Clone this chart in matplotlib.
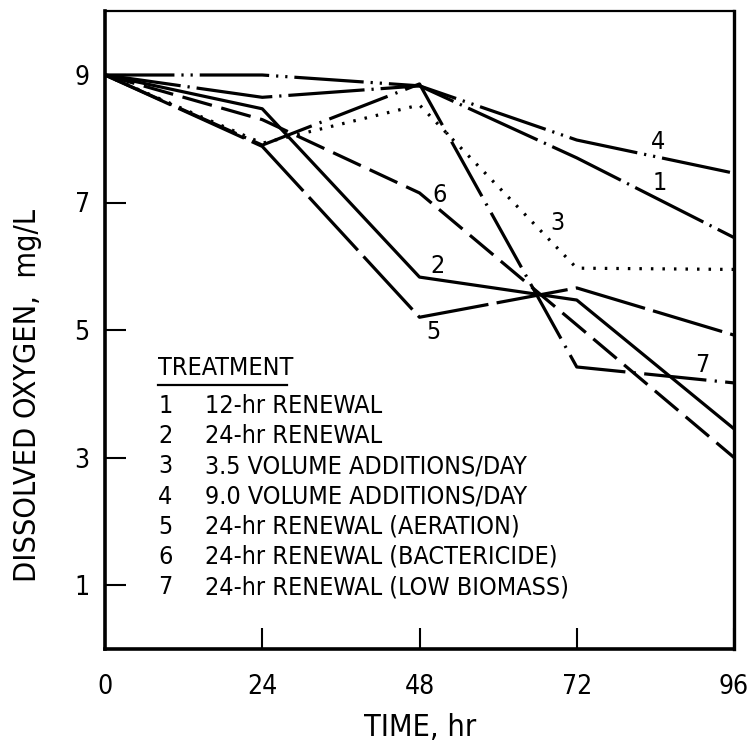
import matplotlib
matplotlib.use("Agg")
import matplotlib.pyplot as plt
from matplotlib.lines import Line2D

plt.rcParams['font.family'] = ['DejaVu Sans']
plt.rcParams['font.stretch'] = 'condensed'
plt.rcParams['lines.scale_dashes'] = False

# Sampling times (hr)
time_hr = [0, 24, 48, 72, 96]

# Dissolved oxygen (mg/L) per treatment
do_12hr_renewal = [9.0, 8.65, 8.83, 7.70, 6.45]
do_24hr_renewal = [9.0, 8.47, 5.83, 5.47, 3.45]
do_35_vol_add = [9.0, 7.93, 8.53, 5.97, 5.95]
do_90_vol_add = [9.0, 9.00, 8.83, 7.98, 7.46]
do_24hr_aeration = [9.0, 7.88, 5.20, 5.66, 4.92]
do_24hr_bactericide = [9.0, 8.30, 7.15, 5.08, 3.00]
do_24hr_low_biomass = [9.0, 7.90, 8.86, 4.42, 4.17]

treatment_ids = ["1", "2", "3", "4", "5", "6", "7"]
treatment_names = [
    "12-hr RENEWAL",
    "24-hr RENEWAL",
    "3.5 VOLUME ADDITIONS/DAY",
    "9.0 VOLUME ADDITIONS/DAY",
    "24-hr RENEWAL (AERATION)",
    "24-hr RENEWAL (BACTERICIDE)",
    "24-hr RENEWAL (LOW BIOMASS)",
]

x_ticks = [0, 24, 48, 72, 96]
y_ticks = [1, 3, 5, 7, 9]

series = [do_12hr_renewal, do_24hr_renewal, do_35_vol_add, do_90_vol_add,
          do_24hr_aeration, do_24hr_bactericide, do_24hr_low_biomass]

# Dash patterns (points)
styles = [
    (0, (55, 5, 1.6, 5)),              # 1 dash-dot
    (0, ()),                           # 2 solid
    (0, (1.8, 6.5)),                   # 3 dotted
    (0, (50, 5, 1.6, 5, 1.6, 5)),      # 4 dash-dot-dot
    (0, (52, 6)),                      # 5 long dash
    (0, (22, 7)),                      # 6 dash
    (0, (45, 6, 1.6, 6)),              # 7 dash-dot
]

# Curve label positions (hr, mg/L)
label_pos = [(84.7, 7.31), (50.7, 6.0), (69.1, 6.68), (84.4, 7.95),
             (50.1, 4.97), (51.1, 7.12), (91.1, 4.45)]

W, H = 751, 744
fig = plt.figure(figsize=(W / 100, H / 100), dpi=100)
ax = fig.add_axes([105 / W, 1 - 648.75 / H, 629 / W, 637.5 / H])

for vals, ls in zip(series, styles):
    ax.plot(time_hr, vals, color='black', lw=2.3, linestyle=ls,
            dash_capstyle='butt', solid_joinstyle='miter')

fs = 18
for tid, (lx, ly) in zip(treatment_ids, label_pos):
    ax.text(lx, ly, tid, fontsize=fs, ha='center', va='center')

# Treatment key
ax.text(8.1, 4.40, "TREATMENT", fontsize=fs, ha='left', va='center')
ax.add_line(Line2D([8.1, 27.8], [4.13, 4.13], color='black', lw=1.6))
row0 = 3.81
step = 0.474
for i, (tid, name) in enumerate(zip(treatment_ids, treatment_names)):
    y = row0 - i * step
    ax.text(8.1, y, tid, fontsize=fs, ha='left', va='center')
    ax.text(15.3, y, name, fontsize=fs, ha='left', va='center')

ax.set_xlim(0, 96)
ax.set_ylim(0, 10)
ax.set_xticks(x_ticks)
ax.set_yticks(y_ticks)
ax.set_xticklabels([str(v) for v in x_ticks], fontsize=19)
ax.set_yticklabels([str(v) for v in y_ticks], fontsize=19)
ax.tick_params(axis='both', direction='in', length=15, width=1.5)
ax.tick_params(axis='x', pad=18)
ax.tick_params(axis='y', pad=11)

for side, lw in [('left', 2.6), ('bottom', 2.6), ('right', 2.4), ('top', 1.6)]:
    ax.spines[side].set_linewidth(lw)

# Axis titles
fig.text(420 / W, 1 - 727 / H, "TIME, hr", fontsize=22,
         ha='center', va='center')
fig.text(28 / W, 1 - 395 / H, "DISSOLVED OXYGEN,  mg/L", fontsize=22,
         ha='center', va='center', rotation=90)

fig.savefig("out.png", dpi=100)
